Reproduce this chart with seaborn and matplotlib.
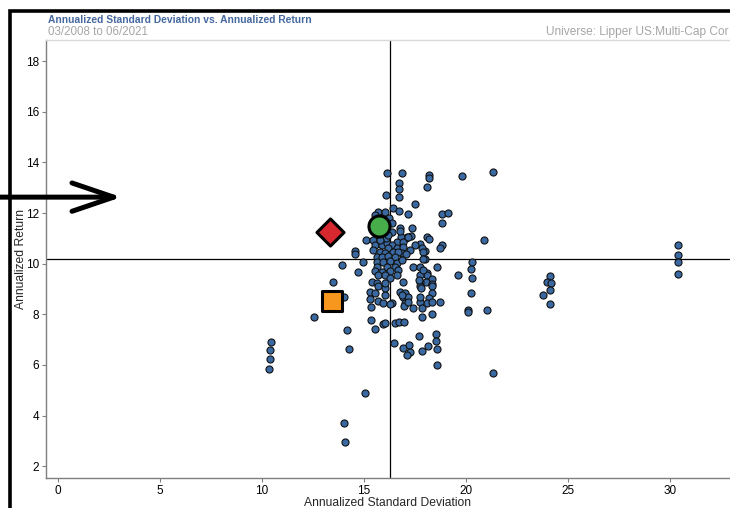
import matplotlib
matplotlib.use("Agg")
import matplotlib.pyplot as plt
import matplotlib.patches as mpatches
import seaborn as sns
import pandas as pd

# 同类基金 (Lipper US:Multi-Cap Core) 的年化标准差 / 年化收益
peer_sd = [
    14.56, 14.56, 13.90, 14.69, 13.50, 14.03, 12.56, 14.18, 14.28, 10.42, 10.41, 10.39, 10.33, 14.02, 14.05, 15.05,
    30.42, 30.42, 30.42, 30.42, 24.12, 23.95, 24.15, 24.12, 23.79, 24.12,
    18.20, 18.20, 19.79, 21.34, 18.07, 18.84, 19.13, 18.81, 18.10, 18.19, 20.90, 18.84, 18.74, 17.99, 17.99, 20.28,
    18.56, 20.25, 18.10, 18.10, 19.60, 20.28, 18.32, 18.02, 18.35, 18.35, 18.35, 20.25, 18.17, 18.07, 18.35, 18.74,
    20.12, 20.12, 21.03, 18.33, 18.55, 18.55, 18.15, 18.56, 18.56, 21.32,
    16.14, 16.86, 16.70, 16.70, 16.08, 16.70, 17.52, 16.40, 15.70, 16.04, 16.70, 17.14, 15.56, 16.24, 16.76, 17.30,
    17.04, 17.75, 15.10, 16.35, 16.35, 15.46, 17.09, 16.81, 16.60, 16.93, 17.50, 17.83, 15.54, 15.87, 16.11, 16.35,
    16.19, 16.60, 16.93, 17.25, 15.46, 15.78, 16.44, 16.03, 16.85, 17.34, 16.76, 17.14, 17.91, 16.68, 17.05,
    15.95, 16.10, 15.80, 16.17,
    15.62, 15.87, 16.19, 16.52, 14.97, 15.62, 15.95, 16.27, 16.60, 16.85, 17.42, 17.75, 15.62, 16.11, 16.52, 15.54,
    15.87, 16.27, 16.68, 15.70, 16.03, 16.60, 17.75, 17.91, 16.27, 15.38, 15.62, 16.93, 17.75, 15.70, 17.75, 15.29,
    15.54, 16.76, 17.00, 16.93, 17.17, 15.29, 15.70, 15.95, 16.35, 17.00, 17.75, 17.42, 17.83,
    17.91, 17.72, 17.78, 17.75, 17.83, 15.33, 16.03, 16.03, 16.03, 16.85, 16.98, 15.34, 15.54, 15.92, 16.03, 16.52,
    16.72, 16.96, 17.72, 16.49, 17.22, 16.93, 17.83, 17.25, 17.09, 16.27, 17.17,
]
peer_ret = [
    10.50, 10.40, 9.93, 9.66, 9.26, 8.67, 7.89, 7.38, 6.61, 6.91, 6.58, 6.23, 5.85, 3.69, 2.94, 4.88,
    10.75, 10.34, 10.05, 9.60, 9.51, 9.28, 9.22, 8.97, 8.77, 8.40,
    13.50, 13.40, 13.47, 13.61, 13.04, 11.96, 12.00, 11.60, 11.06, 10.98, 10.95, 10.75, 10.60, 10.51, 10.18, 10.07,
    9.88, 9.78, 9.63, 9.55, 9.54, 9.44, 9.39, 9.28, 9.18, 9.11, 8.83, 8.83, 8.63, 8.45, 8.47, 8.47,
    8.17, 8.09, 8.18, 8.02, 7.24, 6.95, 6.75, 6.62, 5.99, 5.68,
    13.59, 13.57, 13.20, 12.94, 12.71, 12.64, 12.34, 12.21, 12.05, 12.05, 12.08, 11.96, 11.92, 11.79, 11.42, 11.09,
    11.00, 10.77, 10.93, 11.59, 11.26, 10.93, 11.06, 11.06, 10.87, 10.87, 10.74, 10.60, 10.74, 10.74, 10.80, 10.74,
    10.60, 10.63, 10.67, 10.54, 10.54, 10.47, 10.45, 10.41, 10.41, 11.42, 11.30, 11.04, 10.47, 10.45, 10.40,
    11.15, 11.00, 10.95, 11.13,
    10.27, 10.27, 10.29, 10.27, 10.05, 10.07, 10.07, 10.11, 10.04, 10.14, 9.88, 9.88, 9.88, 9.88, 9.88, 9.72,
    9.68, 9.72, 9.75, 9.55, 9.55, 9.55, 9.55, 9.75, 9.42, 9.28, 9.22, 9.28, 9.28, 9.11, 9.11, 8.89,
    8.85, 8.89, 8.85, 8.69, 8.69, 8.59, 8.53, 8.43, 8.45, 8.45, 8.49, 8.23, 8.23,
    10.18, 9.35, 9.02, 8.69, 7.90, 8.30, 8.76, 9.02, 9.22, 8.76, 8.34, 7.77, 7.42, 7.60, 7.64, 7.64,
    7.68, 7.70, 7.14, 6.85, 6.78, 6.68, 6.55, 6.52, 6.39, 8.39, 8.49,
]

# 重点标记
hl_names = ['Fund', 'Index', 'Peer Average']
hl_sd = [13.33, 15.74, 13.43]
hl_ret = [11.25, 11.49, 8.52]
hl_markers = ['D', 'o', 's']
hl_colors = ['#d7282f', '#46ad4a', '#f7971e']
hl_sizes = [190, 230, 215]

# 参考线 (中位数)
median_sd = 16.27
median_ret = 10.18

x_ticks = [0, 5, 10, 15, 20, 25, 30]
y_ticks = [2, 4, 6, 8, 10, 12, 14, 16, 18]

sns.set_theme(style='white')
plt.rcParams['font.family'] = ['Liberation Sans', 'DejaVu Sans']

peers = pd.DataFrame({'sd': peer_sd, 'ret': peer_ret})
highlights = pd.DataFrame({'name': hl_names, 'sd': hl_sd, 'ret': hl_ret})

fig = plt.figure(figsize=(7.3, 5.08), dpi=100)
ax = fig.add_axes([46 / 730, 30 / 508, 684 / 730, 438 / 508])

ax.axvline(median_sd, color='black', lw=0.9, zorder=2)
ax.axhline(median_ret, color='black', lw=0.9, zorder=2)

sns.scatterplot(data=peers, x='sd', y='ret', ax=ax, s=26, color='#3a69a2',
                edgecolor='#111111', linewidth=0.8, zorder=3, legend=False)

for i, row in highlights.iterrows():
    sns.scatterplot(x=[row['sd']], y=[row['ret']], ax=ax, marker=hl_markers[i],
                    s=hl_sizes[i], color=hl_colors[i], edgecolor='black',
                    linewidth=2.2, zorder=4, legend=False)

ax.set_xlim(-0.6, 32.95)
ax.set_ylim(1.53, 18.84)
ax.set_xticks(x_ticks)
ax.set_yticks(y_ticks)
ax.tick_params(axis='both', which='major', direction='out', length=3, width=0.8,
               color='#808080', labelsize=8.5, labelcolor='black', pad=2,
               bottom=True, left=True)
ax.set_xlabel('Annualized Standard Deviation', fontsize=8.7, labelpad=0)
ax.set_ylabel('Annualized Return', fontsize=8.7, labelpad=-1)

for side in ['left', 'bottom']:
    ax.spines[side].set_color('#7f7f7f')
    ax.spines[side].set_linewidth(1.0)
ax.spines['top'].set_color('#d9d9d9')
ax.spines['top'].set_linewidth(1.0)
ax.spines['right'].set_visible(False)

# 左侧箭头
ax.annotate('', xy=(3.1, 12.63), xytext=(-3.1, 12.63),
            xycoords='data', textcoords='data', annotation_clip=False,
            arrowprops=dict(arrowstyle='->,head_length=2.5,head_width=0.85',
                            color='black', lw=3.6, shrinkA=0, shrinkB=0))

# 标题区
fig.text(48 / 730, 1 - 20 / 508, 'Annualized Standard Deviation vs. Annualized Return',
         fontsize=7.4, fontweight='bold', color='#45689f', va='center', ha='left')
fig.text(48 / 730, 1 - 32 / 508, '03/2008 to 06/2021',
         fontsize=8.3, color='#a6a6a6', va='center', ha='left')
fig.text(729 / 730, 1 - 32 / 508, 'Universe: Lipper US:Multi-Cap Cor',
         fontsize=8.6, color='#a6a6a6', va='center', ha='right')

# 外框
frame = mpatches.Rectangle((9.5 / 730, -0.1), 1.2, 1.1 - 11 / 508,
                           transform=fig.transFigure, fill=False,
                           edgecolor='black', lw=2.6, clip_on=False)
fig.patches.append(frame)

fig.savefig('out.png', dpi=100)
